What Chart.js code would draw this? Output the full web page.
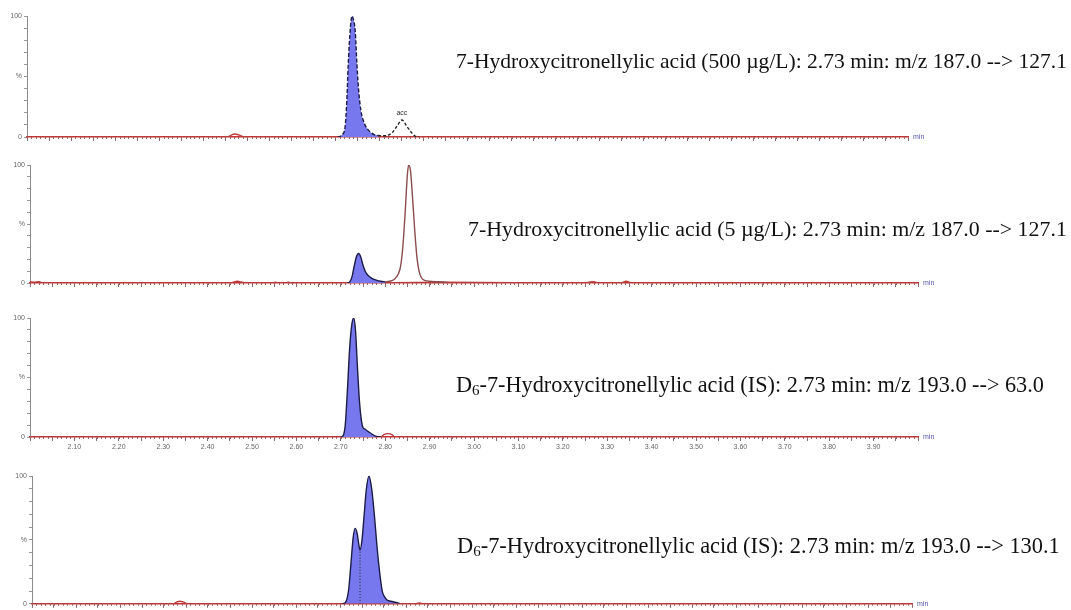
<!DOCTYPE html>
<html lang="en">
<head>
    <meta charset="UTF-8">
    <title>Chromatograms</title>
    <script src="https://cdn.jsdelivr.net/npm/chart.js"></script>
    <style>
        body {
            margin: 0;
            background: #fff;
            width: 1071px;
            height: 610px;
            position: relative;
            overflow: hidden;
            font-family: 'Liberation Serif', 'Times New Roman', serif;
        }
        .panel { position: absolute; left: 0; width: 940px; }
        .label { position: absolute; font-size: 22px; line-height: 25px; color: #111; white-space: nowrap; }
        .label sub { font-size: 15px; line-height: 0; vertical-align: -3px; }
    </style>
</head>
<body>
<div class="panel" style="top:0;height:145px"><canvas id="c1"></canvas></div>
<div class="panel" style="top:150px;height:141px"><canvas id="c2"></canvas></div>
<div class="panel" style="top:300px;height:153px"><canvas id="c3"></canvas></div>
<div class="panel" style="top:455px;height:155px"><canvas id="c4"></canvas></div>

<div class="label" style="left:456px;top:49px;font-size:21.55px">7-Hydroxycitronellylic acid (500 µg/L): 2.73 min: m/z 187.0 --&gt; 127.1</div>
<div class="label" style="left:468px;top:216px;font-size:21.9px">7-Hydroxycitronellylic acid (5 µg/L): 2.73 min: m/z 187.0 --&gt; 127.1</div>
<div class="label" style="left:456px;top:372px;font-size:22.25px">D<sub>6</sub>-7-Hydroxycitronellylic acid (IS): 2.73 min: m/z 193.0 --&gt; 63.0</div>
<div class="label" style="left:457px;top:533px;font-size:22.4px">D<sub>6</sub>-7-Hydroxycitronellylic acid (IS): 2.73 min: m/z 193.0 --&gt; 130.1</div>

<script>
    // retention time axis (min) and intensity (%)
    const timeMin = 2.0;
    const timeMax = 4.0;

    // panel 1 - 500 µg/L, 187.0 > 127.1
    const p1BaseT = [2.00, 2.455, 2.465, 2.472, 2.48, 2.495, 2.70, 2.80, 2.89, 4.00];
    const p1BaseY = [0, 0, 1.8, 2.5, 1.8, 0, 0, 0, 0, 0];
    const p1PeakT = [2.705, 2.711, 2.716, 2.722, 2.726, 2.729, 2.733, 2.736, 2.738, 2.741, 2.745, 2.749, 2.753, 2.758, 2.764, 2.772, 2.78, 2.788, 2.797];
    const p1PeakY = [0, 0.5, 2, 8, 30, 58, 85, 97, 100, 97, 88, 60, 38, 22, 13, 7, 4, 2, 1.2];
    const p1SideT = [2.797, 2.81, 2.82, 2.83, 2.84, 2.851, 2.862, 2.872, 2.881, 2.89];
    const p1SideY = [1.2, 1, 1.5, 4, 9, 14, 9, 4, 0.8, 0];

    // panel 2 - 5 µg/L, 187.0 > 127.1
    const p2BaseT = [2.00, 2.01, 2.02, 2.03, 2.45, 2.46, 2.467, 2.475, 2.49, 2.545, 2.553, 2.56, 2.575, 2.582, 2.59, 2.70, 2.93, 3.25, 3.262, 3.27, 3.28, 3.33, 3.343, 3.355, 4.00];
    const p2BaseY = [1, 0.6, 1, 0, 0, 1, 1.5, 1, 0, 0, 0.6, 0, 0, 0.6, 0, 0, 0.6, 0, 0.8, 1, 0, 0, 1.5, 0, 0];
    const p2PeakT = [2.715, 2.72, 2.725, 2.73, 2.735, 2.74, 2.745, 2.75, 2.755, 2.76, 2.77, 2.78, 2.79, 2.80];
    const p2PeakY = [0, 1, 5, 14, 22, 25, 22, 15, 10, 7, 4, 2.5, 1.5, 1];
    const p2SideT = [2.80, 2.81, 2.82, 2.83, 2.835, 2.84, 2.845, 2.85, 2.853, 2.857, 2.862, 2.867, 2.872, 2.877, 2.885, 2.90, 2.92, 2.94];
    const p2SideY = [1, 1.5, 3, 8, 15, 32, 60, 92, 100, 95, 70, 42, 20, 9, 3, 1.5, 1, 0.4];

    // panel 3 - IS, 193.0 > 63.0
    const p3BaseT = [2.00, 2.79, 2.797, 2.806, 2.815, 2.822, 4.00];
    const p3BaseY = [0, 0, 2, 2.8, 2, 0, 0];
    const p3PeakT = [2.70, 2.705, 2.71, 2.715, 2.72, 2.725, 2.729, 2.733, 2.738, 2.742, 2.746, 2.75, 2.755, 2.76, 2.77, 2.78, 2.79];
    const p3PeakY = [0, 1, 10, 40, 75, 95, 100, 90, 55, 30, 15, 8, 6.5, 5, 2.5, 0.5, 0];
    const p3Ticks = ['2.10', '2.20', '2.30', '2.40', '2.50', '2.60', '2.70', '2.80', '2.90', '3.00', '3.10', '3.20', '3.30', '3.40', '3.50', '3.60', '3.70', '3.80', '3.90'];

    // panel 4 - IS, 193.0 > 130.1
    const p4BaseT = [2.00, 2.32, 2.33, 2.336, 2.343, 2.355, 2.70, 2.87, 2.88, 2.89, 4.00];
    const p4BaseY = [0, 0, 1.5, 2, 1.5, 0, 0, 0, 0.7, 0, 0];
    const p4PeakT = [2.705, 2.711, 2.716, 2.72, 2.725, 2.73, 2.7345, 2.739, 2.743, 2.7455, 2.75, 2.755, 2.76, 2.766, 2.772, 2.778, 2.784, 2.79, 2.796, 2.802, 2.807, 2.815, 2.825, 2.835];
    const p4PeakY = [0, 0.5, 4, 12, 32, 52, 59, 55, 46, 42, 50, 70, 90, 100, 90, 70, 45, 25, 10, 5, 3, 2, 1.2, 0.5];
    const p4DropT = [2.7455, 2.7455];
    const p4DropY = [0, 42];

    const fillBlue = '#7878ee';
    const edgeDark = '#1c1c48';
    const traceRed = '#b83a3a';

    function pts(t, y) {
        return t.map((v, i) => ({x: v, y: y[i]}));
    }

    const extras = {
        id: 'extras',
        afterDraw(chart, args, opts) {
            const {ctx, chartArea} = chart;
            const xs = chart.scales.x;
            const ys = chart.scales.y;
            ctx.save();
            ctx.strokeStyle = '#a06060';
            ctx.lineWidth = 1;
            for (let i = 0; i <= 200; i++) {
                const px = Math.round(xs.getPixelForValue(timeMin + i * 0.01)) + 0.5;
                ctx.beginPath();
                ctx.moveTo(px, chartArea.bottom);
                ctx.lineTo(px, chartArea.bottom + 2);
                ctx.stroke();
            }
            ctx.fillStyle = '#5555aa';
            ctx.font = '7px "Liberation Sans"';
            ctx.textBaseline = 'middle';
            ctx.fillText('min', chartArea.right + 5, chartArea.bottom);
            if (opts.peakText) {
                ctx.fillStyle = '#333';
                ctx.textAlign = 'center';
                ctx.textBaseline = 'bottom';
                ctx.fillText(opts.peakText.text, xs.getPixelForValue(opts.peakText.x), ys.getPixelForValue(opts.peakText.y) - 3);
            }
            ctx.restore();
        }
    };

    function makePanel(id, cfg) {
        const ctx = document.getElementById(id).getContext('2d');
        new Chart(ctx, {
            type: 'line',
            data: {datasets: cfg.datasets},
            options: {
                responsive: true,
                maintainAspectRatio: false,
                animation: false,
                layout: {padding: {top: cfg.top, right: cfg.right, left: 0, bottom: 0}},
                elements: {
                    point: {radius: 0},
                    line: {cubicInterpolationMode: 'monotone', borderWidth: 1.4}
                },
                plugins: {
                    legend: {display: false},
                    tooltip: {enabled: false},
                    extras: {peakText: cfg.peakText}
                },
                scales: {
                    x: {
                        type: 'linear',
                        min: timeMin,
                        max: timeMax,
                        afterFit: (s) => { s.height = cfg.xHeight; },
                        border: {color: '#c83232', width: 1.5},
                        grid: {display: true, drawOnChartArea: false, tickLength: 4, color: '#8a6a6a'},
                        ticks: {
                            stepSize: 0.05,
                            autoSkip: false,
                            maxRotation: 0,
                            padding: 2,
                            color: '#666',
                            font: {size: 7, family: 'Liberation Sans'},
                            callback: (v) => {
                                const s = Number(v).toFixed(2);
                                return cfg.xLabels && cfg.xLabels.includes(s) ? s : '';
                            }
                        }
                    },
                    y: {
                        min: 0,
                        max: 100,
                        afterFit: (s) => { s.width = cfg.left; },
                        border: {color: '#8c8c8c', width: 1},
                        grid: {display: true, drawOnChartArea: false, tickLength: 3, color: '#999'},
                        ticks: {
                            stepSize: 10,
                            padding: 2,
                            color: '#666',
                            font: {size: 7, family: 'Liberation Sans'},
                            callback: (v) => v === 100 ? '100' : v === 50 ? '%' : v === 0 ? '0' : ''
                        }
                    }
                }
            },
            plugins: [extras]
        });
    }

    makePanel('c1', {
        top: 16, right: 32, left: 27, xHeight: 8,
        peakText: {text: 'acc', x: 2.851, y: 14},
        datasets: [
            {data: pts(p1PeakT, p1PeakY), borderColor: edgeDark, borderDash: [4, 2], backgroundColor: fillBlue, fill: 'origin'},
            {data: pts(p1SideT, p1SideY), borderColor: '#222', borderDash: [3, 2], fill: false},
            {data: pts(p1BaseT, p1BaseY), borderColor: traceRed, fill: false}
        ]
    });

    makePanel('c2', {
        top: 15, right: 22, left: 30, xHeight: 8,
        datasets: [
            {data: pts(p2PeakT, p2PeakY), borderColor: edgeDark, backgroundColor: fillBlue, fill: 'origin'},
            {data: pts(p2SideT, p2SideY), borderColor: '#8a4c4c', fill: false},
            {data: pts(p2BaseT, p2BaseY), borderColor: traceRed, fill: false}
        ]
    });

    makePanel('c3', {
        top: 18, right: 22, left: 30, xHeight: 16,
        xLabels: p3Ticks,
        datasets: [
            {data: pts(p3PeakT, p3PeakY), borderColor: edgeDark, backgroundColor: fillBlue, fill: 'origin'},
            {data: pts(p3BaseT, p3BaseY), borderColor: traceRed, fill: false}
        ]
    });

    makePanel('c4', {
        top: 21, right: 28, left: 32, xHeight: 2,
        datasets: [
            {data: pts(p4DropT, p4DropY), borderColor: '#222', borderWidth: 1, borderDash: [1, 2], fill: false},
            {data: pts(p4PeakT, p4PeakY), borderColor: edgeDark, backgroundColor: fillBlue, fill: 'origin'},
            {data: pts(p4BaseT, p4BaseY), borderColor: traceRed, fill: false}
        ]
    });
</script>
</body>
</html>
